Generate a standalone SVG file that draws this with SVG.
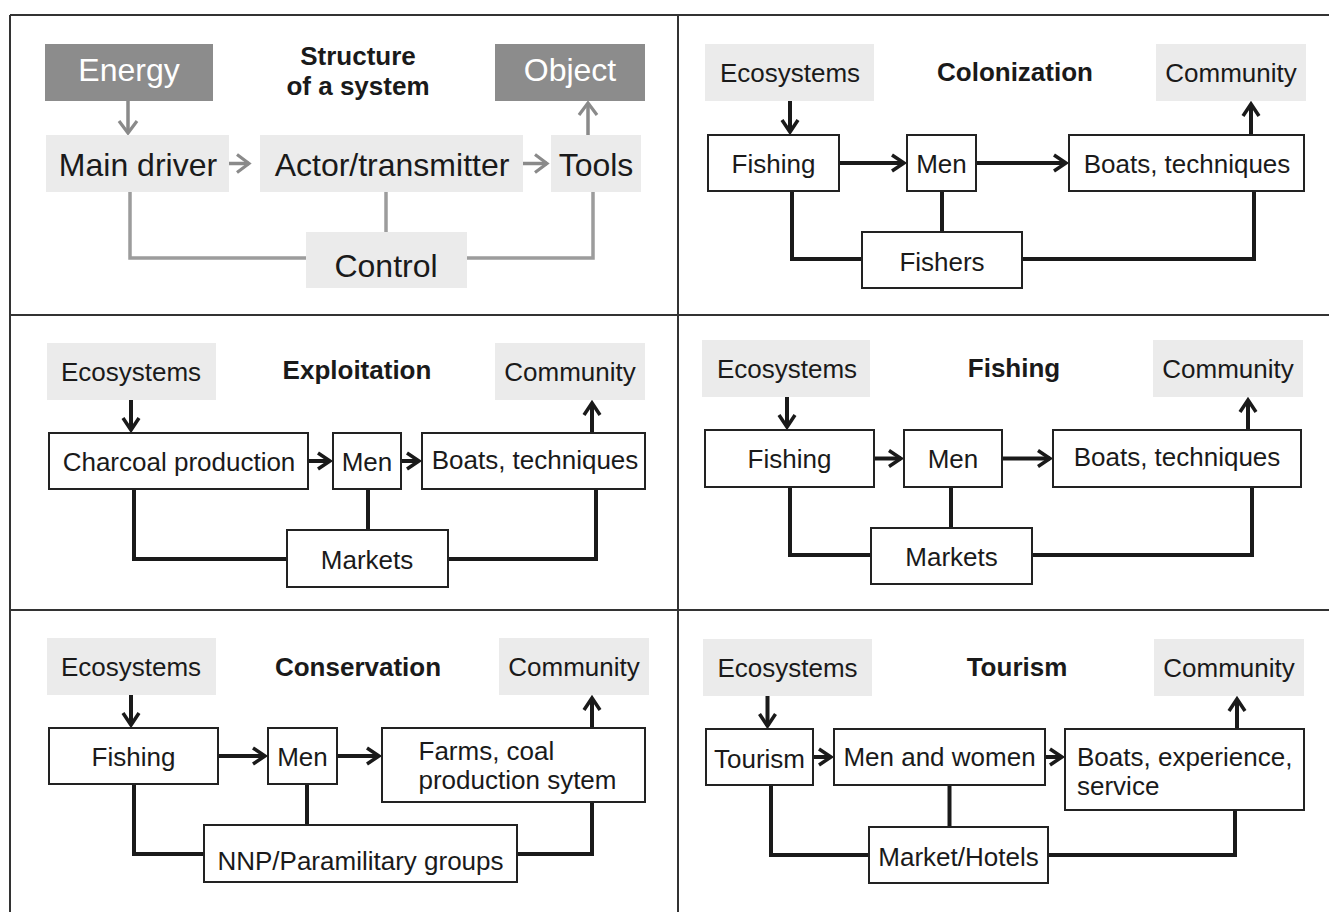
<svg xmlns="http://www.w3.org/2000/svg" width="1329" height="912" viewBox="0 0 1329 912">
  <defs>
    <style>
      text { font-family: "Liberation Sans", Arial, sans-serif; fill: #1a1a1a; }
      .big { font-size: 32px; text-anchor: middle; }
      .lbl { font-size: 26px; text-anchor: middle; }
      .lft { font-size: 26px; text-anchor: start; }
      .ttl { font-size: 26px; font-weight: bold; text-anchor: middle; }
      .white { fill: #ffffff; }
      .dark { fill: #8c8c8c; }
      .pale { fill: #ebebeb; }
      .box { fill: #ffffff; stroke: #222222; stroke-width: 2; }
      .frame { stroke: #333333; stroke-width: 2; fill: none; }
      .g-line { fill: none; stroke: #9c9c9c; stroke-width: 3.5; stroke-linejoin: miter; }
      .g-arrow { fill: none; stroke: #8a8a8a; stroke-width: 3.5; marker-end: url(#chev-gray); }
      .b-line { fill: none; stroke: #1a1a1a; stroke-width: 4; stroke-linejoin: miter; }
      .b-arrow { fill: none; stroke: #1a1a1a; stroke-width: 4; marker-end: url(#chev-black); }
    </style>
    <marker id="chev-black" markerUnits="userSpaceOnUse" markerWidth="30" markerHeight="30" viewBox="-15 -15 30 30" refX="0" refY="0" orient="auto">
      <path d="M-12,-8 L0,0 L-12,8" fill="none" stroke="#1a1a1a" stroke-width="3.5" stroke-linejoin="miter"/>
    </marker>
    <marker id="chev-gray" markerUnits="userSpaceOnUse" markerWidth="30" markerHeight="30" viewBox="-15 -15 30 30" refX="0" refY="0" orient="auto">
      <path d="M-12,-9 L0,0 L-12,9" fill="none" stroke="#8a8a8a" stroke-width="3.2" stroke-linejoin="miter"/>
    </marker>
  </defs>

  <rect width="1329" height="912" fill="#ffffff"/>

  <!-- panel frame -->
  <g id="frame" class="frame">
    <line x1="10" y1="15" x2="1329" y2="15"/>
    <line x1="10" y1="15" x2="10" y2="912"/>
    <line x1="678" y1="15" x2="678" y2="912"/>
    <line x1="10" y1="315" x2="1329" y2="315"/>
    <line x1="10" y1="610" x2="1329" y2="610"/>
  </g>

  <!-- connectors -->
  <g id="connectors">
    <!-- structure of a system -->
    <line class="g-arrow" x1="128" y1="101" x2="128" y2="133"/>
    <line class="g-arrow" x1="229" y1="163.5" x2="249" y2="163.5"/>
    <line class="g-arrow" x1="523" y1="163.5" x2="547" y2="163.5"/>
    <line class="g-arrow" x1="588" y1="135" x2="588" y2="103"/>
    <polyline class="g-line" points="130,192 130,258 306,258"/>
    <line class="g-line" x1="386" y1="192" x2="386" y2="232"/>
    <polyline class="g-line" points="593,192 593,258 467,258"/>

    <!-- colonization -->
    <line class="b-arrow" x1="790" y1="101" x2="790" y2="132"/>
    <line class="b-arrow" x1="839" y1="163" x2="904" y2="163"/>
    <line class="b-arrow" x1="976" y1="163" x2="1066" y2="163"/>
    <line class="b-arrow" x1="1251" y1="135" x2="1251" y2="104"/>
    <polyline class="b-line" points="792,191 792,259 862,259"/>
    <line class="b-line" x1="942" y1="191" x2="942" y2="232"/>
    <polyline class="b-line" points="1254,191 1254,259 1022,259"/>

    <!-- exploitation -->
    <line class="b-arrow" x1="131" y1="400" x2="131" y2="430"/>
    <line class="b-arrow" x1="308" y1="461" x2="330" y2="461"/>
    <line class="b-arrow" x1="401" y1="461" x2="419" y2="461"/>
    <line class="b-arrow" x1="592" y1="433" x2="592" y2="403"/>
    <polyline class="b-line" points="134,489 134,559 287,559"/>
    <line class="b-line" x1="368" y1="489" x2="368" y2="530"/>
    <polyline class="b-line" points="596,489 596,559 448,559"/>

    <!-- fishing -->
    <line class="b-arrow" x1="787" y1="397" x2="787" y2="427"/>
    <line class="b-arrow" x1="874" y1="458.5" x2="901" y2="458.5"/>
    <line class="b-arrow" x1="1002" y1="458.5" x2="1050" y2="458.5"/>
    <line class="b-arrow" x1="1248" y1="430" x2="1248" y2="400"/>
    <polyline class="b-line" points="790,487 790,555 871,555"/>
    <line class="b-line" x1="951" y1="487" x2="951" y2="528"/>
    <polyline class="b-line" points="1252,487 1252,555 1032,555"/>

    <!-- conservation -->
    <line class="b-arrow" x1="131" y1="695" x2="131" y2="725"/>
    <line class="b-arrow" x1="218" y1="756" x2="265" y2="756"/>
    <line class="b-arrow" x1="337" y1="756" x2="379" y2="756"/>
    <line class="b-arrow" x1="592" y1="728" x2="592" y2="698"/>
    <polyline class="b-line" points="134,784 134,854 204,854"/>
    <line class="b-line" x1="307" y1="784" x2="307" y2="825"/>
    <polyline class="b-line" points="592,802 592,854 517,854"/>

    <!-- tourism -->
    <line class="b-arrow" x1="767.5" y1="696" x2="767.5" y2="726"/>
    <line class="b-arrow" x1="813" y1="757" x2="831" y2="757"/>
    <line class="b-arrow" x1="1045" y1="757" x2="1062" y2="757"/>
    <line class="b-arrow" x1="1237" y1="729" x2="1237" y2="699"/>
    <polyline class="b-line" points="771,785 771,855 869,855"/>
    <line class="b-line" x1="949.5" y1="785" x2="949.5" y2="827"/>
    <polyline class="b-line" points="1235,810 1235,855 1048,855"/>
  </g>

  <!-- structure of a system -->
  <g id="s-title"><text class="ttl" x="358" y="65">Structure</text><text class="ttl" x="358" y="95">of a system</text></g>
  <g id="s-energy"><rect class="dark" x="45" y="44" width="168" height="57"/><text class="big white" x="129" y="81">Energy</text></g>
  <g id="s-object"><rect class="dark" x="495" y="44" width="150" height="57"/><text class="big white" x="570" y="81">Object</text></g>
  <g id="s-driver"><rect class="pale" x="46" y="135" width="183" height="57"/><text class="big" x="138" y="176">Main driver</text></g>
  <g id="s-actor"><rect class="pale" x="260" y="135" width="263" height="57"/><text class="big" x="392" y="176">Actor/transmitter</text></g>
  <g id="s-tools"><rect class="pale" x="551" y="135" width="90" height="57"/><text class="big" x="596" y="176">Tools</text></g>
  <g id="s-control"><rect class="pale" x="306" y="232" width="161" height="56"/><text class="big" x="386" y="277">Control</text></g>

  <!-- colonization -->
  <g id="c-title"><text class="ttl" x="1015" y="81">Colonization</text></g>
  <g id="c-eco"><rect class="pale" x="705" y="44" width="169" height="57"/><text class="lbl" x="790" y="82">Ecosystems</text></g>
  <g id="c-community"><rect class="pale" x="1156" y="44" width="150" height="57"/><text class="lbl" x="1231" y="82">Community</text></g>
  <g id="c-fishing"><rect class="box" x="708" y="135" width="131" height="56"/><text class="lbl" x="773.5" y="173">Fishing</text></g>
  <g id="c-men"><rect class="box" x="907" y="135" width="69" height="56"/><text class="lbl" x="941.5" y="173">Men</text></g>
  <g id="c-boats"><rect class="box" x="1069" y="135" width="235" height="56"/><text class="lbl" x="1187" y="173">Boats, techniques</text></g>
  <g id="c-fishers"><rect class="box" x="862" y="232" width="160" height="56"/><text class="lbl" x="942" y="271">Fishers</text></g>

  <!-- exploitation -->
  <g id="e-title"><text class="ttl" x="357" y="379">Exploitation</text></g>
  <g id="e-eco"><rect class="pale" x="47" y="343" width="169" height="57"/><text class="lbl" x="131" y="381">Ecosystems</text></g>
  <g id="e-community"><rect class="pale" x="495" y="343" width="150" height="57"/><text class="lbl" x="570" y="381">Community</text></g>
  <g id="e-charcoal"><rect class="box" x="49" y="433" width="259" height="56"/><text class="lbl" x="179" y="471">Charcoal production</text></g>
  <g id="e-men"><rect class="box" x="333" y="433" width="68" height="56"/><text class="lbl" x="367" y="471">Men</text></g>
  <g id="e-boats"><rect class="box" x="422" y="433" width="223" height="56"/><text class="lbl" x="535" y="469">Boats, techniques</text></g>
  <g id="e-markets"><rect class="box" x="287" y="530" width="161" height="57"/><text class="lbl" x="367" y="569">Markets</text></g>

  <!-- fishing -->
  <g id="f-title"><text class="ttl" x="1014" y="377">Fishing</text></g>
  <g id="f-eco"><rect class="pale" x="702" y="340" width="168" height="57"/><text class="lbl" x="787" y="378">Ecosystems</text></g>
  <g id="f-community"><rect class="pale" x="1153" y="340" width="150" height="57"/><text class="lbl" x="1228" y="378">Community</text></g>
  <g id="f-fishing"><rect class="box" x="705" y="430" width="169" height="57"/><text class="lbl" x="789.5" y="468">Fishing</text></g>
  <g id="f-men"><rect class="box" x="904" y="430" width="98" height="57"/><text class="lbl" x="953" y="468">Men</text></g>
  <g id="f-boats"><rect class="box" x="1053" y="430" width="248" height="57"/><text class="lbl" x="1177" y="466">Boats, techniques</text></g>
  <g id="f-markets"><rect class="box" x="871" y="528" width="161" height="56"/><text class="lbl" x="951.5" y="566">Markets</text></g>

  <!-- conservation -->
  <g id="v-title"><text class="ttl" x="358" y="676">Conservation</text></g>
  <g id="v-eco"><rect class="pale" x="47" y="638" width="169" height="57"/><text class="lbl" x="131" y="676">Ecosystems</text></g>
  <g id="v-community"><rect class="pale" x="499" y="638" width="150" height="57"/><text class="lbl" x="574" y="676">Community</text></g>
  <g id="v-fishing"><rect class="box" x="49" y="728" width="169" height="56"/><text class="lbl" x="133.5" y="766">Fishing</text></g>
  <g id="v-men"><rect class="box" x="268" y="728" width="69" height="56"/><text class="lbl" x="302.5" y="766">Men</text></g>
  <g id="v-farms"><rect class="box" x="382" y="728" width="263" height="74"/><text class="lft" x="418.5" y="760">Farms, coal</text><text class="lft" x="418.5" y="789">production sytem</text></g>
  <g id="v-nnp"><rect class="box" x="204" y="825" width="313" height="57"/><text class="lbl" x="360.5" y="870">NNP/Paramilitary groups</text></g>

  <!-- tourism -->
  <g id="t-title"><text class="ttl" x="1017" y="676">Tourism</text></g>
  <g id="t-eco"><rect class="pale" x="703" y="639" width="169" height="57"/><text class="lbl" x="787.5" y="677">Ecosystems</text></g>
  <g id="t-community"><rect class="pale" x="1154" y="639" width="150" height="57"/><text class="lbl" x="1229" y="677">Community</text></g>
  <g id="t-tourism"><rect class="box" x="706" y="729" width="107" height="56"/><text class="lbl" x="759.5" y="768">Tourism</text></g>
  <g id="t-men"><rect class="box" x="834" y="729" width="211" height="56"/><text class="lbl" x="939.5" y="766">Men and women</text></g>
  <g id="t-boats"><rect class="box" x="1065" y="729" width="239" height="81"/><text class="lft" x="1077" y="766">Boats, experience,</text><text class="lft" x="1077" y="795">service</text></g>
  <g id="t-market"><rect class="box" x="869" y="827" width="179" height="56"/><text class="lbl" x="958.5" y="866">Market/Hotels</text></g>
</svg>
